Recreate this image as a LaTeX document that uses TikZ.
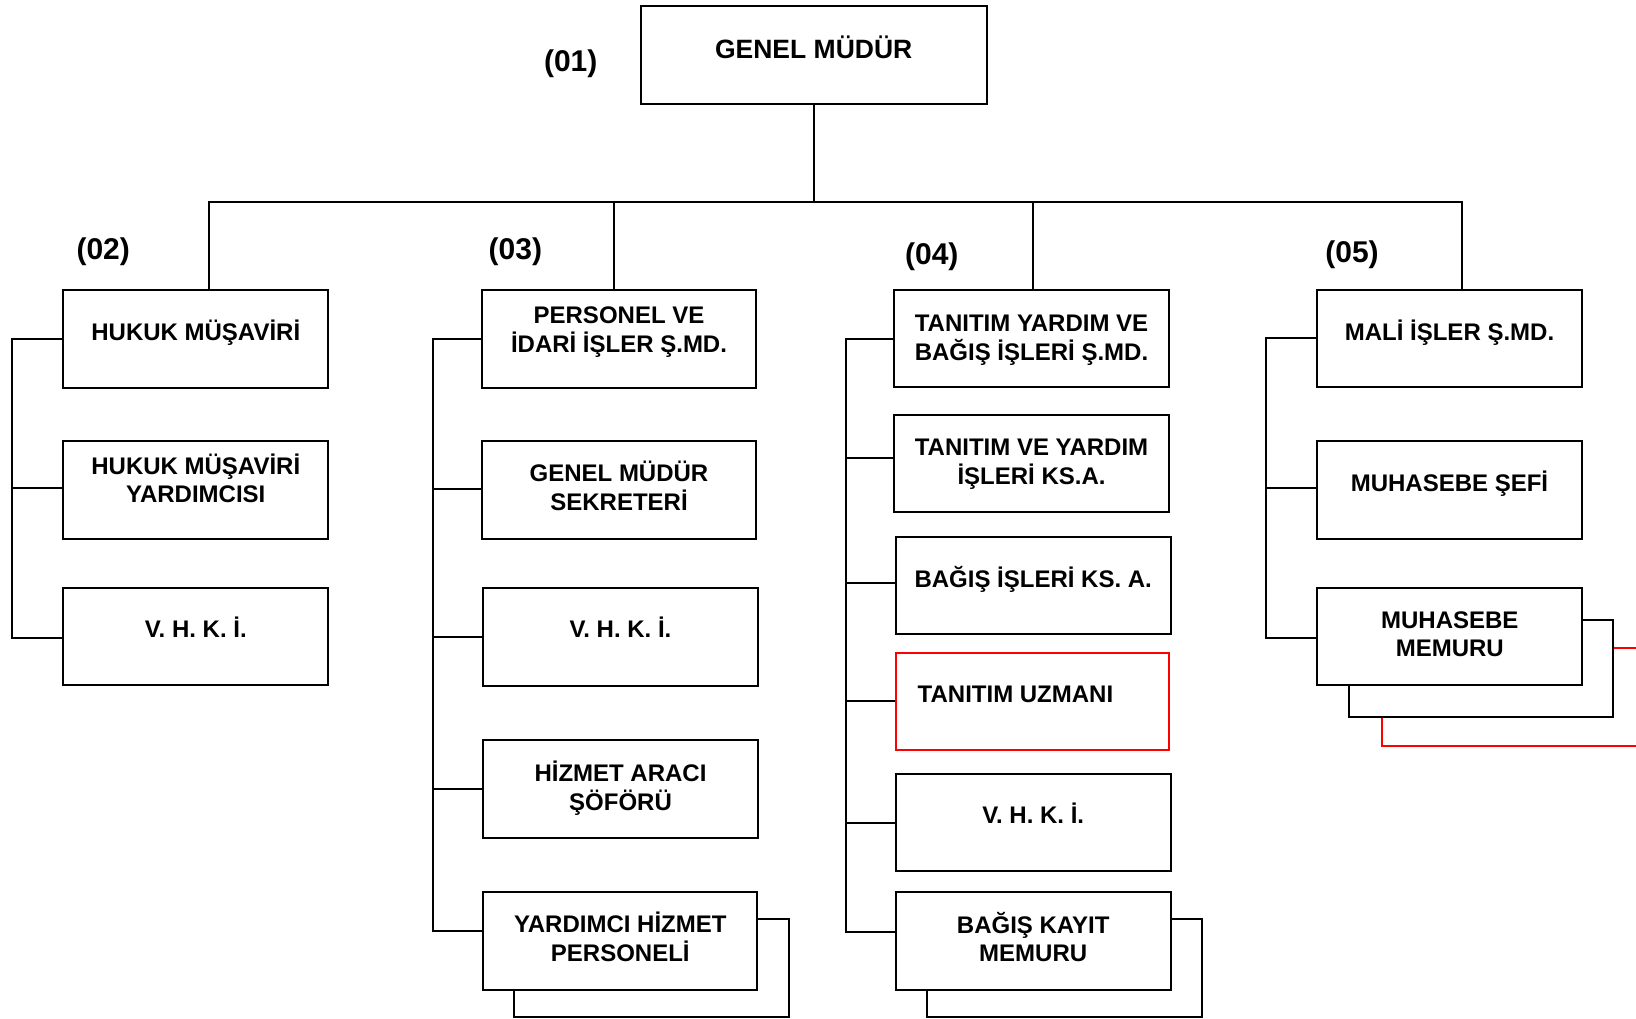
\documentclass[tikz,border=0pt]{standalone}
\usepackage{fontspec}
\setmainfont{Liberation Sans}
\newcommand\twoline[2]{\begin{tabular}[t]{@{}c@{}}#1\\#2\end{tabular}}
\begin{document}
\begin{tikzpicture}[x=1pt,y=-1pt,
  box/.style={draw=black,line width=2pt,fill=white,rectangle,inner sep=0pt,
    minimum width=#1,minimum height=97.5pt},
  box/.default=265pt,
  redbox/.style={box=#1,draw=red},
  redbox/.default=265pt,
  txt/.style={inner sep=0pt,anchor=base,font=\bfseries\fontsize{24}{28.5}\selectfont},
  lbl/.style={inner sep=0pt,anchor=center,font=\bfseries\fontsize{30}{36}\selectfont},
  conn/.style={draw=black,line width=2pt}]
\path[use as bounding box] (0,0) rectangle (1636,1018);
\clip (0,0) rectangle (1636,1018);

% top
\node[box=346pt,minimum height=98pt] (g) at (813.7,55) {};
\node[txt,font=\bfseries\fontsize{26.5}{31}\selectfont] (gt) at (813.7,58.5) {GENEL MÜDÜR};

% column 02
\node[box=265pt] (h1) at (195.8,338.9) {};
\node[box=265pt] (h2) at (195.8,489.9) {};
\node[box=265pt] (h3) at (195.8,636.7) {};
\node[txt] (h1t) at (195.8,340) {HUKUK MÜŞAVİRİ};
\node[txt] (h2t) at (195.8,474) {\twoline{HUKUK MÜŞAVİRİ}{YARDIMCISI}};
\node[txt] (h3t) at (195.8,637.3) {V. H. K. İ.};

% column 03
\node[box=274.5pt] (p5s) at (651.7,968) {};
\node[box=274pt] (p1) at (619,339) {};
\node[box=274pt] (p2) at (619,490) {};
\node[box=274.5pt] (p3) at (620.5,637.2) {};
\node[box=275pt] (p4) at (620.5,789.2) {};
\node[box=274pt] (p5) at (620.3,940.8) {};
\node[txt] (p1t) at (619,323.3) {\twoline{PERSONEL VE}{İDARİ İŞLER Ş.MD.}};
\node[txt] (p2t) at (619,481.5) {\twoline{GENEL MÜDÜR}{SEKRETERİ}};
\node[txt] (p3t) at (620.5,637.5) {V. H. K. İ.};
\node[txt] (p4t) at (620.5,781.7) {\twoline{HİZMET ARACI}{ŞÖFÖRÜ}};
\node[txt] (p5t) at (620.3,932.5) {\twoline{YARDIMCI HİZMET}{PERSONELİ}};

% column 04
\node[box=275pt] (t6s) at (1064.2,968) {};
\node[box=275pt] (t1) at (1031.5,338.7) {};
\node[box=275pt] (t2) at (1031.5,463.4) {};
\node[box=275pt] (t3) at (1033.2,585.7) {};
\node[redbox=273.5pt] (t4) at (1032.7,701.4) {};
\node[box=275pt] (t5) at (1033.2,822.5) {};
\node[box=275pt] (t6) at (1033.2,940.8) {};
\node[txt] (t1t) at (1031.5,331) {\twoline{TANITIM YARDIM VE}{BAĞIŞ İŞLERİ Ş.MD.}};
\node[txt] (t2t) at (1031.5,455) {\twoline{TANITIM VE YARDIM}{İŞLERİ KS.A.}};
\node[txt] (t3t) at (1033.2,587.3) {BAĞIŞ İŞLERİ KS. A.};
\node[txt,anchor=base west] (t4t) at (917.5,702.7) {TANITIM UZMANI};
\node[txt] (t5t) at (1033.2,823.3) {V. H. K. İ.};
\node[txt] (t6t) at (1033.2,933.3) {\twoline{BAĞIŞ KAYIT}{MEMURU}};

% column 05
\node[redbox=265pt,fill=none] (m3r) at (1514.2,697) {};
\node[box=264.6pt] (m3s) at (1481,668.7) {};
\node[box=264.4pt] (m1) at (1449.5,338.3) {};
\node[box=264.4pt] (m2) at (1449.5,490) {};
\node[box=265pt] (m3) at (1449.8,636.5) {};
\node[txt] (m1t) at (1449.5,340) {MALİ İŞLER Ş.MD.};
\node[txt] (m2t) at (1449.5,491.7) {MUHASEBE ŞEFİ};
\node[txt] (m3t) at (1449.8,628.3) {\twoline{MUHASEBE}{MEMURU}};

% labels
\node[lbl] (l1) at (570.7,63.8) {(01)};
\node[lbl] (l2) at (103.2,251.5) {(02)};
\node[lbl] (l3) at (515.4,251.5) {(03)};
\node[lbl] (l4) at (931.8,256.6) {(04)};
\node[lbl] (l5) at (1352,254.8) {(05)};

% bus
\coordinate (busL) at (209,201.7);
\coordinate (busR) at (1462.3,201.7);
\coordinate (b2) at (614.3,201.7);
\coordinate (b3) at (1033.3,201.7);
\draw[conn] (g.south) -- (g.south |- busL);
\draw[conn] (busL |- h1.north) -- (busL) -- (busR) -- (busR |- m1.north);
\draw[conn] (b2) -- (b2 |- p1.north);
\draw[conn] (b3) -- (b3 |- t1.north);

% spines
\coordinate (s1) at (12.3,0);
\coordinate (s2) at (433.3,0);
\coordinate (s3) at (845.7,0);
\coordinate (s4) at (1265.7,0);
\coordinate (h2b) at ([yshift=1.5pt]h2.west);
\coordinate (h3b) at ([yshift=-1.5pt]h3.west);
\draw[conn] (h1.west) -- (h1.west -| s1) -- (h3b -| s1) -- (h3b);
\draw[conn] (h2b) -- (h2b -| s1);

\coordinate (p2b) at ([yshift=1.3pt]p2.west);
\coordinate (p5b) at ([yshift=9.7pt]p5.west);
\draw[conn] (p1.west) -- (p1.west -| s2) -- (p5b -| s2) -- (p5b);
\draw[conn] (p2b) -- (p2b -| s2);
\draw[conn] (p3.west) -- (p3.west -| s2);
\draw[conn] (p4.west) -- (p4.west -| s2);

\coordinate (t2b) at ([yshift=5pt]t2.west);
\coordinate (t3b) at ([yshift=3pt]t3.west);
\coordinate (t6b) at ([yshift=8.5pt]t6.west);
\draw[conn] (t1.west) -- (t1.west -| s3) -- (t6b -| s3) -- (t6b);
\draw[conn] (t2b) -- (t2b -| s3);
\draw[conn] (t3b) -- (t3b -| s3);
\draw[conn] (t4.west) -- (t4.west -| s3);
\draw[conn] (t5.west) -- (t5.west -| s3);

\coordinate (m2b) at ([yshift=1.7pt]m2.west);
\coordinate (m3b) at ([yshift=-1.8pt]m3.west);
\draw[conn] (m1.west) -- (m1.west -| s4) -- (m3b -| s4) -- (m3b);
\draw[conn] (m2b) -- (m2b -| s4);
\end{tikzpicture}
\end{document}
